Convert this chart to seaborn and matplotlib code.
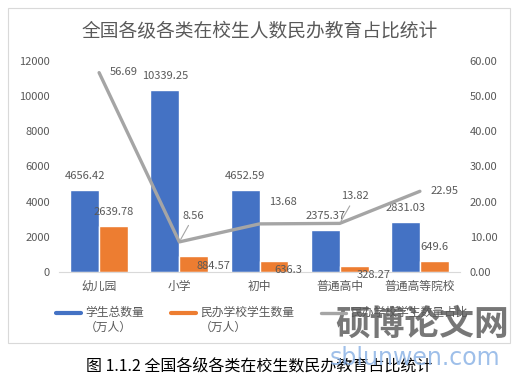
import numpy as np
import pandas as pd
import matplotlib
matplotlib.use('Agg')
import matplotlib.pyplot as plt
import seaborn as sns
from matplotlib.lines import Line2D
from matplotlib.patches import Rectangle
from matplotlib.ticker import FormatStrFormatter
from matplotlib.legend_handler import HandlerLine2D

# ---------------- data ----------------
categories = ['幼儿园', '小学', '初中', '普通高中', '普通高等院校']
total_students = [4656.42, 10339.25, 4652.59, 2375.37, 2831.03]
private_students = [2639.78, 884.57, 636.3, 328.27, 649.6]
private_share = [56.69, 8.56, 13.68, 13.82, 22.95]
series_names = ['学生总数量\n（万人）', '民办学校学生数量\n（万人）', '民办学校学生数量占比\n ']
left_ticks = [0, 2000, 4000, 6000, 8000, 10000, 12000]
right_ticks = [0, 10, 20, 30, 40, 50, 60]
title = '全国各级各类在校生人数民办教育占比统计'
caption = '图 1.1.2 全国各级各类在校生数民办教育占比统计'

BLUE = '#4472C4'
ORANGE = '#ED7D31'
GRAY = '#A5A5A5'
TXT = '#595959'
AXC = '#D9D9D9'


def fmt(v):
    return f'{v:.2f}'.rstrip('0').rstrip('.')


sns.set_theme(style='white')
plt.rcParams['font.family'] = ['Noto Sans CJK SC', 'DejaVu Sans']

W, H = 522, 379
fig = plt.figure(figsize=(W / 100, H / 100), dpi=100)
ax = fig.add_axes([59 / W, 1 - 272 / H, (460 - 59) / W, (272 - 61) / H])

df = pd.DataFrame({
    'cat': categories * 2,
    'series': [series_names[0]] * len(categories) + [series_names[1]] * len(categories),
    'value': total_students + private_students,
})
sns.barplot(data=df, x='cat', y='value', hue='series', palette=[BLUE, ORANGE],
            width=0.72, gap=0, saturation=1, errorbar=None, legend=False, ax=ax)

ax.set_ylim(0, 12000)
ax.set_yticks(left_ticks)
ax.set_xlim(-0.5, len(categories) - 0.5)
ax.set_xlabel('')
ax.set_ylabel('')
for s in ['top', 'right', 'left']:
    ax.spines[s].set_visible(False)
ax.spines['bottom'].set_color(AXC)
ax.spines['bottom'].set_linewidth(0.8)
ax.tick_params(axis='y', length=0, pad=6.5, labelsize=8, labelcolor=TXT)
ax.tick_params(axis='x', which='major', length=0, pad=5.5, labelsize=8.5, labelcolor=TXT)
ax.set_xticks(np.arange(len(categories) + 1) - 0.5, minor=True)
ax.tick_params(axis='x', which='minor', length=3, width=0.8, color=AXC, direction='out')
ax.grid(False)

# bar labels
blue_off = [(0, 14)] * 5
orange_off = [(0, 14), (20, -10), (14, -9), (20, -9), (0, 13.5)]
for bars, offs in zip(ax.containers, [blue_off, orange_off]):
    for bar, off in zip(bars, offs):
        v = bar.get_height()
        ax.annotate(fmt(v), (bar.get_x() + bar.get_width() / 2, v),
                    xytext=off, textcoords='offset pixels', ha='center', va='center',
                    fontsize=8, color=TXT)

# line on secondary axis
ax2 = ax.twinx()
xs = np.arange(len(categories))
sns.lineplot(x=xs, y=private_share, ax=ax2, color=GRAY, linewidth=2.4, legend=False)
ax2.set_ylim(0, 60)
ax2.set_yticks(right_ticks)
ax2.yaxis.set_major_formatter(FormatStrFormatter('%.2f'))
ax2.tick_params(axis='y', length=0, pad=7, labelsize=8, labelcolor=TXT)
for s in ['top', 'right', 'left', 'bottom']:
    ax2.spines[s].set_visible(False)
ax2.grid(False)
ax2.set_xlim(-0.5, len(categories) - 0.5)

line_off = [(25, 1), (14.5, 26), (23, 22), (15.5, 27), (24.5, 0)]
leader = [False, True, False, True, False]
for x, v, off, ld in zip(xs, private_share, line_off, leader):
    kw = {}
    if ld:
        kw['arrowprops'] = dict(arrowstyle='-', color=GRAY, lw=0.8, shrinkA=1, shrinkB=2)
    ax2.annotate(f'{v:.2f}', (x, v), xytext=off, textcoords='offset pixels',
                 ha='center', va='center', fontsize=8, color=TXT, **kw)

# title
fig.text(0.497, 1 - 32 / H, title, ha='center', va='center', fontsize=13.5, color=TXT)


# legend: handles aligned with the first text line
class TopLine(HandlerLine2D):
    def create_artists(self, legend, orig_handle, xdescent, ydescent, width, height,
                       fontsize, trans):
        arts = super().create_artists(legend, orig_handle, xdescent, ydescent, width,
                                      height, fontsize, trans)
        for a in arts:
            a.set_ydata(np.asarray(a.get_ydata()) + 5.5)
        return arts


handles = [Line2D([], [], color=BLUE, lw=3),
           Line2D([], [], color=ORANGE, lw=3),
           Line2D([], [], color=GRAY, lw=2.4)]
fig.legend(handles, series_names, loc='upper left', bbox_to_anchor=(56 / W, 1 - 306 / H),
           bbox_transform=fig.transFigure, ncol=3, frameon=False, fontsize=8.5,
           handlelength=2.1, handletextpad=0.35, columnspacing=2.3, borderaxespad=0,
           borderpad=0, labelcolor=TXT, handler_map={Line2D: TopLine()})

# chart frame
fig.add_artist(Rectangle((8 / W, 1 - 343 / H), 502 / W, 335 / H, transform=fig.transFigure,
                         fill=False, ec=AXC, lw=0.8))

# caption
fig.text(0.496, 1 - 366 / H, caption, ha='center', va='center', fontsize=11.5, color='black')

# watermark
fig.text(422 / W, 1 - 324 / H, '硕博论文网', ha='center', va='center', fontsize=25,
         color='#555555', alpha=0.8, weight='bold')
fig.text(415 / W, 1 - 358 / H, 'sblunwen.com', ha='center', va='center', fontsize=17,
         color='#8DB4E6', alpha=0.85, family='DejaVu Sans')

fig.savefig('out.png', dpi=100)
